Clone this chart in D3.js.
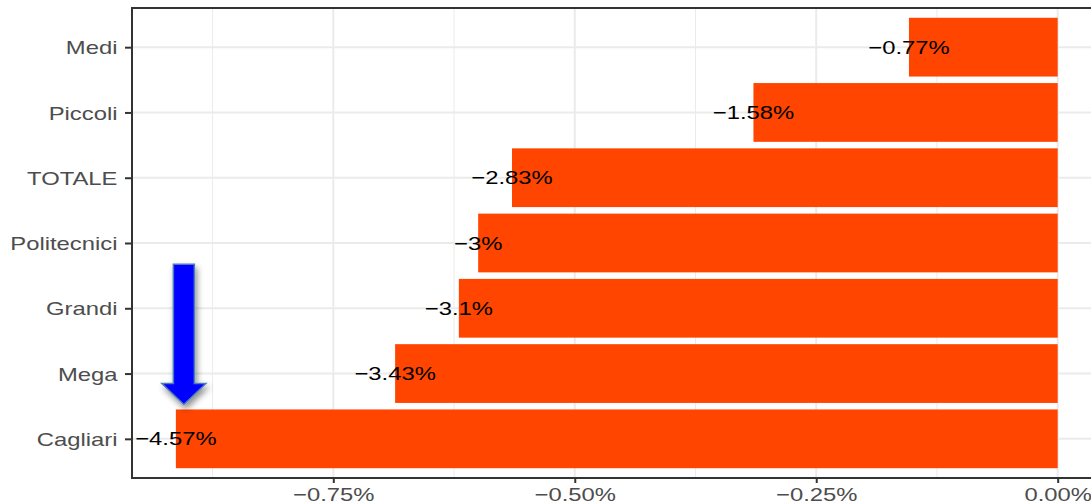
<!DOCTYPE html>
<html>
<head>
<meta charset="utf-8">
<script src="https://cdn.jsdelivr.net/npm/d3@7"></script>
<style>
  html, body { margin: 0; padding: 0; background: #ffffff; }
  svg { display: block; }
</style>
</head>
<body>
<svg id="chart" width="1091" height="504"></svg>
<script>
// ---- data ----
const categories = ["Medi", "Piccoli", "TOTALE", "Politecnici", "Grandi", "Mega", "Cagliari"];
const barValues = [-0.154, -0.315, -0.565, -0.600, -0.620, -0.686, -0.913];
const labelTexts = ["\u22120.77%", "\u22121.58%", "\u22122.83%", "\u22123%", "\u22123.1%", "\u22123.43%", "\u22124.57%"];
const xTicks = [-0.75, -0.5, -0.25, 0];
const xTickLabels = ["\u22120.75%", "\u22120.50%", "\u22120.25%", "0.00%"];
const xMinorTicks = [-0.875, -0.625, -0.375, -0.125];
const highlightCategory = "Cagliari";

// ---- layout ----
const svg = d3.select("#chart");
const W = 1091, H = 504;
const panelTop = 8, panelBottom = 478, panelLeft = 132;
const stretch = 1.31;       // horizontal text stretch of the original
const fontSize = 18.2;
const fontFamily = "'Liberation Sans', Arial, Helvetica, sans-serif";

svg.append("rect").attr("width", W).attr("height", H).attr("fill", "#ffffff");

const x = d3.scaleLinear().domain([-0.75, 0]).range([333.3, 1057.7]);
const dataMin = d3.min(barValues), dataMax = 0;
const pad = (dataMax - dataMin) * 0.05;
const panelRight = x(dataMax + pad);

const y = d3.scalePoint().domain(categories).range([panelTop, panelBottom]).padding(0.6);
const barH = y.step() * 0.9;

const defs = svg.append("defs");
const clip = defs.append("clipPath").attr("id", "panelClip");
clip.append("rect").attr("x", panelLeft).attr("y", panelTop)
  .attr("width", panelRight - panelLeft).attr("height", panelBottom - panelTop);
const f = defs.append("filter").attr("id", "shadow").attr("x", "-50%").attr("y", "-50%").attr("width", "200%").attr("height", "200%");
f.append("feDropShadow").attr("dx", 2).attr("dy", 4).attr("stdDeviation", 3)
  .attr("flood-color", "#000").attr("flood-opacity", 0.45);

const panel = svg.append("g").attr("clip-path", "url(#panelClip)");

// grid
panel.selectAll("line.minor").data(xMinorTicks).join("line")
  .attr("x1", d => x(d)).attr("x2", d => x(d))
  .attr("y1", panelTop).attr("y2", panelBottom)
  .attr("stroke", "#ebebeb").attr("stroke-width", 1);
panel.selectAll("line.majorx").data(xTicks).join("line")
  .attr("x1", d => x(d)).attr("x2", d => x(d))
  .attr("y1", panelTop).attr("y2", panelBottom)
  .attr("stroke", "#ebebeb").attr("stroke-width", 2);
panel.selectAll("line.majory").data(categories).join("line")
  .attr("x1", panelLeft).attr("x2", panelRight)
  .attr("y1", d => y(d)).attr("y2", d => y(d))
  .attr("stroke", "#ebebeb").attr("stroke-width", 2);

// bars
panel.selectAll("rect.bar").data(categories).join("rect")
  .attr("x", (d, i) => x(barValues[i]))
  .attr("width", (d, i) => x(0) - x(barValues[i]))
  .attr("y", d => y(d) - barH / 2)
  .attr("height", barH)
  .attr("fill", "#ff4500");

// labels
panel.selectAll("text.lab").data(categories).join("text")
  .attr("transform", (d, i) => `translate(${x(barValues[i])},${y(d)}) scale(${stretch},1)`)
  .attr("dy", "0.36em")
  .attr("text-anchor", "middle")
  .attr("font-family", fontFamily)
  .attr("font-size", fontSize)
  .attr("fill", "#000")
  .text((d, i) => labelTexts[i]);

// arrow annotation pointing to highlighted bar
const hi = categories.indexOf(highlightCategory);
const tipX = x(barValues[hi]) + 8;
const tipY = y(highlightCategory) - barH / 2 - 5;
const topY = y(categories[hi - 2]) - 44;
const shaftHalf = 10.5, headHalf = 22, headLen = 21;
const arrowPath = [
  [tipX - shaftHalf, topY], [tipX + shaftHalf, topY],
  [tipX + shaftHalf, tipY - headLen], [tipX + headHalf, tipY - headLen],
  [tipX, tipY], [tipX - headHalf, tipY - headLen],
  [tipX - shaftHalf, tipY - headLen]
];
svg.append("path")
  .attr("d", d3.line()(arrowPath) + "Z")
  .attr("fill", "#0000ff")
  .attr("stroke", "#4a7ebb")
  .attr("stroke-width", 1.5)
  .attr("stroke-linejoin", "miter")
  .attr("filter", "url(#shadow)");

// panel border
svg.append("rect")
  .attr("x", panelLeft).attr("y", panelTop)
  .attr("width", panelRight - panelLeft).attr("height", panelBottom - panelTop)
  .attr("fill", "none").attr("stroke", "#333333").attr("stroke-width", 2);

// x axis
const xAxis = svg.append("g").attr("transform", `translate(0,${panelBottom})`)
  .call(d3.axisBottom(x).tickValues(xTicks).tickSize(5).tickSizeOuter(0)
    .tickFormat((d, i) => xTickLabels[i]));
xAxis.select(".domain").attr("stroke", "#333333").attr("stroke-width", 2).attr("d", `M${panelLeft},0H${panelRight}`);
xAxis.selectAll(".tick line").attr("stroke", "#333333").attr("stroke-width", 2);
xAxis.selectAll(".tick text")
  .attr("y", 0).attr("dy", 0)
  .attr("transform", `translate(0,23) scale(${stretch},1)`)
  .attr("font-family", fontFamily).attr("font-size", fontSize).attr("fill", "#4d4d4d");

// y axis
const yAxis = svg.append("g").attr("transform", `translate(${panelLeft},0)`)
  .call(d3.axisLeft(y).tickSize(7).tickSizeOuter(0));
yAxis.select(".domain").remove();
yAxis.selectAll(".tick line").attr("stroke", "#333333").attr("stroke-width", 2);
yAxis.selectAll(".tick text")
  .attr("x", 0).attr("dy", "0.36em")
  .attr("transform", `translate(-14.5,0) scale(${stretch},1)`)
  .attr("font-family", fontFamily).attr("font-size", fontSize).attr("fill", "#4d4d4d");
</script>
</body>
</html>
